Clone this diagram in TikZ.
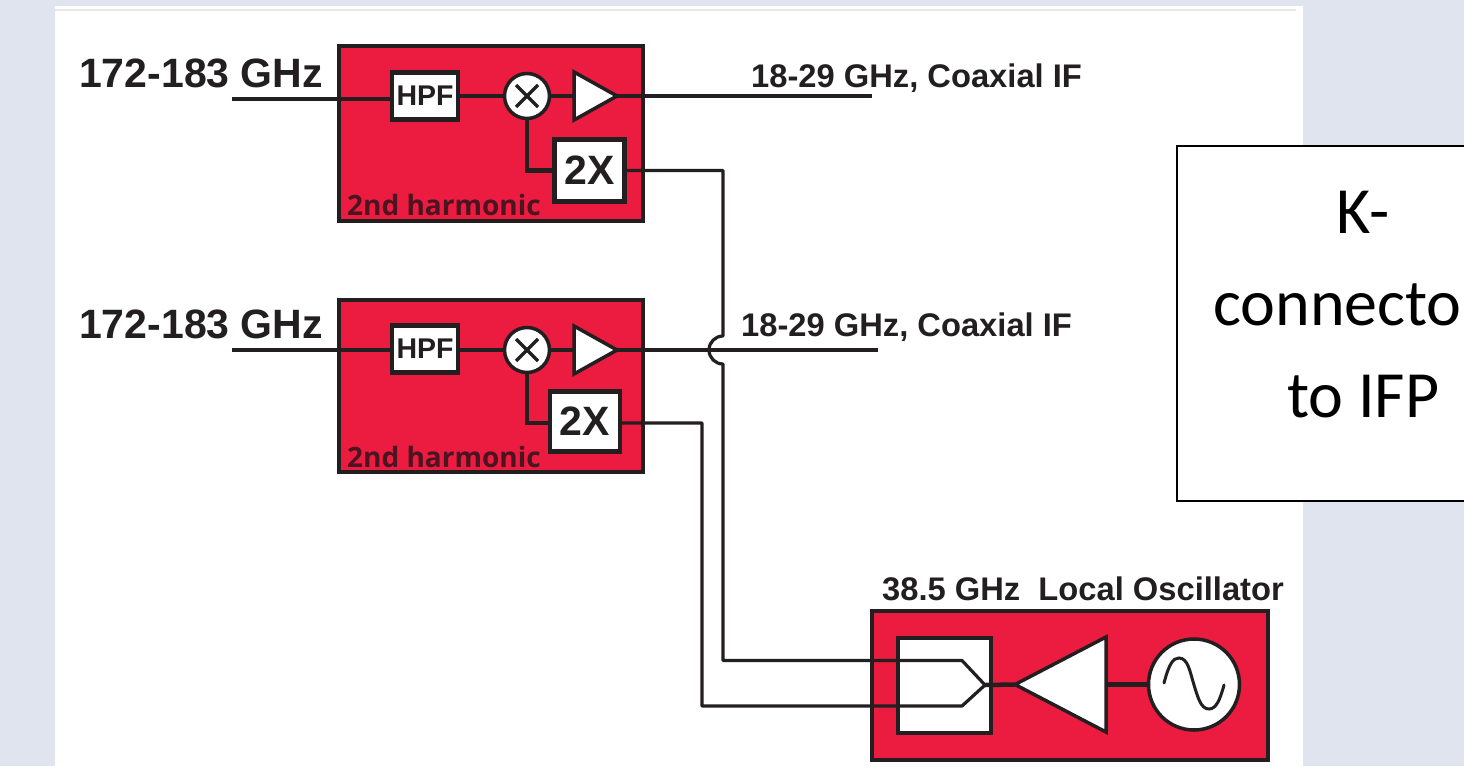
\documentclass[tikz,border=0pt]{standalone}
\usepackage{fontspec}
\setmainfont{Liberation Sans}
\newfontfamily\boxfont{Carlito}
\newfontfamily\harmfont{Open Sans}
\usetikzlibrary{shapes.geometric,calc}
\definecolor{bgblue}{HTML}{E0E4EE}
\definecolor{modred}{HTML}{EC1B40}
\definecolor{ink}{HTML}{231F20}
\definecolor{harmink}{HTML}{4A1420}
\tikzset{
  module/.style={draw=ink,fill=modred,line width=4.5pt,rectangle,inner sep=0pt,outer sep=0pt,anchor=north west},
  whitebox/.style={draw=ink,fill=white,line width=4.5pt,rectangle,inner sep=0pt,outer sep=0pt,text=ink},
  mixer/.style={draw=ink,fill=white,line width=3.5pt,circle,inner sep=0pt,outer sep=0pt,minimum size=45pt},
  amp/.style={draw=ink,fill=white,line width=3.5pt,isosceles triangle,isosceles triangle stretches,inner sep=0pt,outer sep=0pt,anchor=lower side},
  wire/.style={draw=ink,line width=4.5pt},
  thinwire/.style={draw=ink,line width=3.2pt,line join=round},
  crossmark/.style={draw=ink,line width=3.5pt},
  lab/.style={inner sep=0pt,anchor=base west,text=ink,font=\bfseries},
  harm/.style={lab,text=harmink,font=\harmfont\bfseries\fontsize{28}{28}\selectfont},
  bigtext/.style={inner sep=0pt,anchor=base west,text=black,font=\boxfont\fontsize{66}{66}\selectfont},
}
\begin{document}
\begin{tikzpicture}[x=1pt,y=-1pt]
\useasboundingbox (0,0) rectangle (1464,766);
\fill[bgblue] (0,0) rectangle (1464,766);
\fill[white] (55,6) rectangle (1303,766);
\draw[black!9,line width=2pt] (55,10) -- (1296,10);

% Top module
\node[module,minimum width=304pt,minimum height=175pt] (m1) at (339,46) {};
\node[harm] (h1) at (347,215) {2nd harmonic};
\node[whitebox,minimum width=66pt,minimum height=47pt,font=\bfseries\fontsize{28.5}{29}\selectfont] (hpf1) at (425,96) {HPF};
\node[mixer] (x1) at (527,96) {};
\node[amp,minimum width=48pt,minimum height=43pt] (a1) at (574,96) {};
\node[whitebox,minimum width=70pt,minimum height=62pt,font=\bfseries\fontsize{41}{41}\selectfont] (d1) at (589.5,170.5) {2X};

% Middle module
\node[module,minimum width=304pt,minimum height=172pt] (m2) at (339,300) {};
\node[harm] (h2) at (347,467) {2nd harmonic};
\node[whitebox,minimum width=66pt,minimum height=47pt,font=\bfseries\fontsize{28.5}{29}\selectfont] (hpf2) at (425,349) {HPF};
\node[mixer] (x2) at (527,350) {};
\node[amp,minimum width=48pt,minimum height=43pt] (a2) at (574,350) {};
\node[whitebox,minimum width=70pt,minimum height=60pt,font=\bfseries\fontsize{41}{41}\selectfont] (d2) at (585,421.5) {2X};

% Local oscillator module
\node[module,minimum width=396pt,minimum height=149pt] (lo) at (872,611) {};
\node[whitebox,minimum width=93pt,minimum height=95pt] (cp) at (944.5,685.5) {};
\node[amp,shape border rotate=180,minimum width=95pt,minimum height=91pt] (a3) at (1106,684.5) {};
\node[mixer,minimum size=91pt] (osc) at (1194,684.5) {};

% Mixer crosses
\draw[crossmark] ($(x1)+(-11,-11)$) -- ($(x1)+(11,11)$);
\draw[crossmark] ($(x1)+(-11,11)$) -- ($(x1)+(11,-11)$);
\draw[crossmark] ($(x2)+(-11,-11)$) -- ($(x2)+(11,11)$);
\draw[crossmark] ($(x2)+(-11,11)$) -- ($(x2)+(11,-11)$);

% Labels
\node[lab,font=\bfseries\fontsize{41}{41}\selectfont] (l1) at (79,87) {172-183 GHz};
\node[lab,font=\bfseries\fontsize{41}{41}\selectfont] (l2) at (79,338) {172-183 GHz};
\node[lab,font=\bfseries\fontsize{32.7}{33}\selectfont] (o1) at (751,87) {18-29 GHz, Coaxial IF};
\node[lab,font=\bfseries\fontsize{32.7}{33}\selectfont] (o2) at (741,336) {18-29 GHz, Coaxial IF};
\node[lab,font=\bfseries\fontsize{32.7}{33}\selectfont] (lol) at (882,600) {38.5 GHz\ \ Local Oscillator};

% Free ends and junctions
\coordinate (in1) at (232,99);
\coordinate (in2) at (232,350);
\coordinate (out1) at (872,96);
\coordinate (out2) at (878,350);
\coordinate (j1) at (723,170.5);
\coordinate (j2) at (723,336);
\coordinate (t1) at (723,660.5);
\coordinate (t2) at (702,423);
\coordinate (t3) at (702,706);
\coordinate (c1) at (962,660.5);
\coordinate (c2) at (962,706);
\coordinate (c3) at (985,685);

% Connectors
\draw[wire] (in1) -- (hpf1.west |- in1);
\draw[wire] (hpf1.east) -- (x1.west);
\draw[wire] (x1.east) -- (a1.lower side);
\draw[wire] (a1.apex) -- (out1);
\draw[wire] (x1.south) |- (d1.west);
\draw[thinwire] (d1.east) -- (j1) -- (j2) arc[start angle=90,end angle=270,radius=14pt] -- (t1) -- (c1) -- (c3);

\draw[wire] (in2) -- (hpf2.west |- in2);
\draw[wire] (hpf2.east |- x2) -- (x2.west);
\draw[wire] (x2.east) -- (a2.lower side);
\draw[wire] (a2.apex) -- (out2);
\draw[wire] (x2.south) |- (d2.west |- t2);
\draw[thinwire] (d2.east |- t2) -- (t2) -- (t3) -- (c2) -- (c3);

\draw[wire] (c3) -- (a3.apex);
\draw[wire] (a3.lower side) -- (osc.west);
\draw[draw=ink,line width=3pt,line cap=round] (1164,683) .. controls (1169,664) and (1173,658) .. (1179,658) .. controls (1188,658) and (1190,672) .. (1194,685) .. controls (1198,698) and (1201,709) .. (1209,709) .. controls (1216,709) and (1220,700) .. (1224,685);

% Text box
\node[draw=black,fill=white,line width=1.5pt,rectangle,inner sep=0pt,outer sep=0pt,anchor=north west,minimum width=320pt,minimum height=355pt] (kbox) at (1177,146) {};
\node[bigtext] (k1) at (1336,233) {K-};
\node[bigtext] (k2) at (1213,325) {connecto};
\node[bigtext] (k3) at (1287,417) {to IFP};
\end{tikzpicture}
\end{document}
